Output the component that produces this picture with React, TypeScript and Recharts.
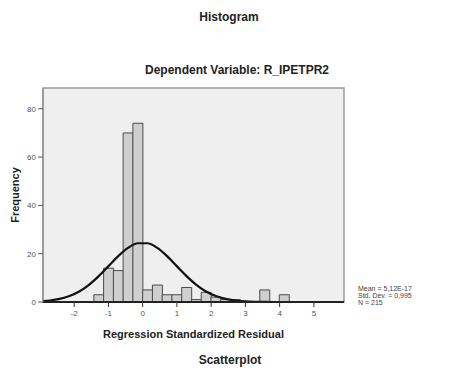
import React from "react"
import { ComposedChart, Bar, Line, XAxis, YAxis, ReferenceArea } from "recharts"

// histogram bins (bin centers, bin width ~0.285)
const binCenters = [-1.2825, -0.9975, -0.7125, -0.4275, -0.1425, 0.1425, 0.4275, 0.7125, 0.9975, 1.2825, 1.5675, 1.8525, 2.1375, 2.4225, 2.7075, 3.5625, 4.1325]
const binCounts = [3, 14, 13, 70, 74, 5, 7, 3, 3, 6, 1, 4, 2, 1, 1, 5, 3]

const curveX = [-2.9925, -2.7075, -2.4225, -2.1375, -1.8525, -1.5675, -1.2825, -0.9975, -0.7125, -0.4275, -0.1425, 0.1425, 0.4275, 0.7125, 0.9975, 1.2825, 1.5675, 1.8525, 2.1375, 2.4225, 2.7075, 2.9925, 3.2775, 3.5625, 3.8475, 4.1325, 4.4175, 4.7025, 4.9875, 5.2725, 5.5575, 5.8425, 6.1275]
const curveY = [0.27, 0.61, 1.27, 2.45, 4.34, 7.1, 10.71, 14.86, 19.01, 22.4, 24.32, 24.32, 22.4, 19.01, 14.86, 10.71, 7.1, 4.34, 2.45, 1.27, 0.61, 0.27, 0.11, 0.04, 0.01, 0, 0, 0, 0, 0, 0, 0, 0]

const xTicks = [-2, -1, 0, 1, 2, 3, 4, 5]
const yTicks = [0, 20, 40, 60, 80]
const xDomain = [-2.91, 5.88]
const yDomain = [0, 88.6]

const legendLines = ["Mean = 5,12E-17", "Std. Dev. = 0,995", "N = 215"]

const rows = curveX.map((x, i) => {
  const b = binCenters.findIndex((c) => Math.abs(c - x) < 0.001)
  return { x, curve: curveY[i], count: b >= 0 ? binCounts[b] : undefined }
})

const FONT = "Arial, 'Liberation Sans', sans-serif"
const tickStyle = { fontSize: 8, fill: "#555", fontFamily: FONT }
const titleStyle = { position: "absolute" as const, width: 454, textAlign: "center" as const, fontWeight: "bold", color: "#222" }

export default function App() {
  return (
    <div style={{ position: "absolute", left: 0, top: 0, width: 454, height: 368, background: "#fff", fontFamily: FONT }}>
      <ComposedChart
        width={454}
        height={368}
        data={rows}
        barCategoryGap={0}
        margin={{ top: 88, right: 110, bottom: 30, left: 13 }}
      >
        <ReferenceArea
          x1={xDomain[0]}
          x2={xDomain[1]}
          y1={yDomain[0]}
          y2={yDomain[1]}
          fill="#efefef"
          fillOpacity={1}
          stroke="#999"
          strokeWidth={1.5}
        />
        <XAxis
          dataKey="x"
          type="number"
          domain={xDomain}
          ticks={xTicks}
          allowDataOverflow
          height={36}
          tickSize={5}
          tickMargin={3}
          tick={tickStyle}
          tickLine={{ stroke: "#333" }}
          axisLine={{ stroke: "#222", strokeWidth: 2 }}
          label={{
            value: "Regression Standardized Residual",
            position: "insideBottom",
            offset: 0,
            style: { fontSize: 11, fontWeight: "bold", fill: "#222", fontFamily: FONT },
          }}
        />
        <YAxis
          type="number"
          domain={yDomain}
          ticks={yTicks}
          allowDataOverflow
          width={30}
          tickSize={5}
          tickMargin={2}
          tick={tickStyle}
          tickLine={{ stroke: "#555" }}
          axisLine={{ stroke: "#888" }}
          label={{
            value: "Frequency",
            angle: -90,
            position: "insideLeft",
            offset: 2,
            style: { textAnchor: "middle", fontSize: 11, fontWeight: "bold", fill: "#222", fontFamily: FONT },
          }}
        />
        <Bar dataKey="count" fill="#cfcfcf" stroke="#4a4a4a" strokeWidth={1} isAnimationActive={false} />
        <Line
          dataKey="curve"
          type="monotone"
          stroke="#111"
          strokeWidth={2.2}
          dot={false}
          isAnimationActive={false}
        />
      </ComposedChart>

      <div style={{ ...titleStyle, left: 2, top: 10, fontSize: 12 }}>Histogram</div>
      <div style={{ ...titleStyle, left: 10, top: 63, fontSize: 12 }}>Dependent Variable: R_IPETPR2</div>
      <div style={{ ...titleStyle, left: 3, top: 353, fontSize: 12 }}>Scatterplot</div>
      <div style={{ position: "absolute", left: 358, top: 285, fontSize: 7, lineHeight: "7px", color: "#444" }}>
        {legendLines.map((t) => (
          <div key={t}>{t}</div>
        ))}
      </div>
    </div>
  )
}
